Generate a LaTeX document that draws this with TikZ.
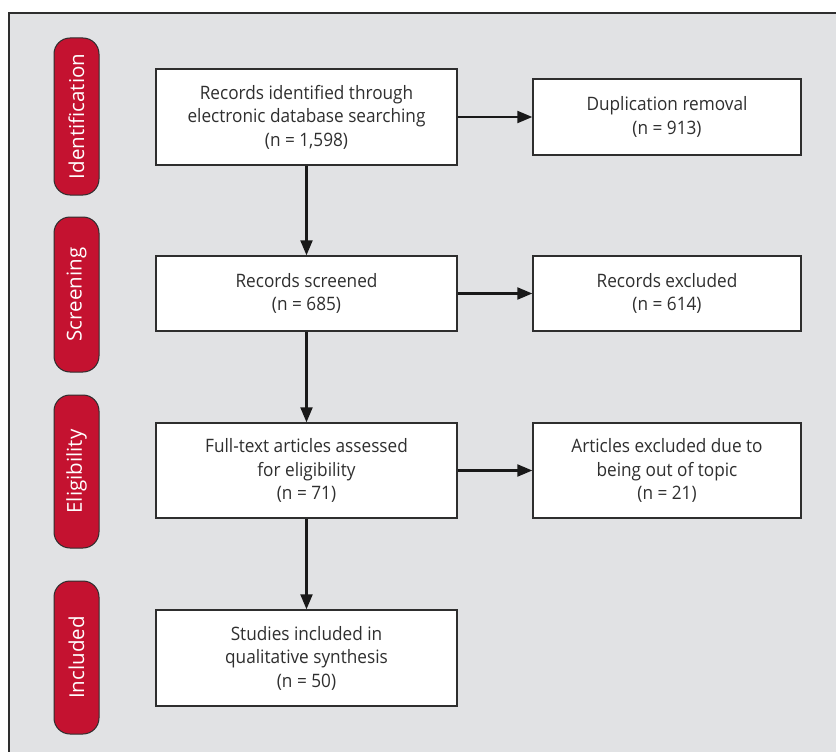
\documentclass[tikz,border=0pt]{standalone}
\usepackage{fontspec}
\setmainfont{Open Sans}[FakeStretch=0.93]
\newfontfamily\pillfont{Open Sans}
\usetikzlibrary{arrows.meta}
\definecolor{panelgray}{HTML}{E1E2E4}
\definecolor{pillred}{HTML}{C41230}
\definecolor{edgegray}{HTML}{2E2E2E}
\definecolor{txtgray}{HTML}{2F2F2F}
\tikzset{
  flowbox/.style={draw=edgegray, line width=1.4pt, fill=white, inner sep=0pt,
    align=center, text=txtgray, font=\fontsize{18.5}{23.5}\selectfont},
  pill/.style={draw=edgegray, line width=1pt, fill=pillred, rounded corners=16pt,
    rotate=90, minimum height=45pt, inner sep=0pt, text=white,
    font=\pillfont\fontsize{20.5}{24}\selectfont},
  flowarrow/.style={draw=black!90, line width=2.2pt, -{Triangle[length=15pt,width=12pt]}}
}
\begin{document}
\begin{tikzpicture}[x=1pt,y=-1pt]
\useasboundingbox (0,0) rectangle (836,752);
\fill[white] (0,0) rectangle (836,752);
\fill[panelgray] (9,13) rectangle (837,753);
\draw[edgegray, line width=1.5pt] (9,753) -- (9,13) -- (837,13);

% stage pills
\node[pill, minimum width=157pt] (id) at (76.5,116.5) {Identification};
\node[pill, minimum width=155pt] (sc) at (76.5,294.5) {Screening};
\node[pill, minimum width=153pt] (el) at (76.5,471.5) {Eligibility};
\node[pill, minimum width=153pt] (inc) at (76.5,657.5) {Included};

% left column boxes
\node[flowbox, minimum width=301pt, minimum height=96pt] (b1) at (306.5,117)
  {Records identified through\\electronic database searching\\(n = 1,598)};
\node[flowbox, minimum width=301pt, minimum height=75pt] (b2) at (306.5,293.5)
  {Records screened\\(n = 685)};
\node[flowbox, minimum width=301pt, minimum height=95pt] (b3) at (306.5,470.5)
  {Full-text articles assessed\\for eligibility\\(n = 71)};
\node[flowbox, minimum width=301pt, minimum height=96pt] (b4) at (306.5,658)
  {Studies included in\\qualitative synthesis\\(n = 50)};

% right column boxes
\node[flowbox, minimum width=268pt, minimum height=76pt] (r1) at (667,117)
  {Duplication removal\\(n = 913)};
\node[flowbox, minimum width=268pt, minimum height=75pt] (r2) at (667,293.5)
  {Records excluded\\(n = 614)};
\node[flowbox, minimum width=268pt, minimum height=95pt] (r3) at (667,470.5)
  {Articles excluded due to\\being out of topic\\(n = 21)};

% connectors
\draw[flowarrow] (b1) -- (b2);
\draw[flowarrow] (b2) -- (b3);
\draw[flowarrow] (b3) -- (b4);
\draw[flowarrow] (b1) -- (r1);
\draw[flowarrow] (b2) -- (r2);
\draw[flowarrow] (b3) -- (r3);
\end{tikzpicture}
\end{document}
